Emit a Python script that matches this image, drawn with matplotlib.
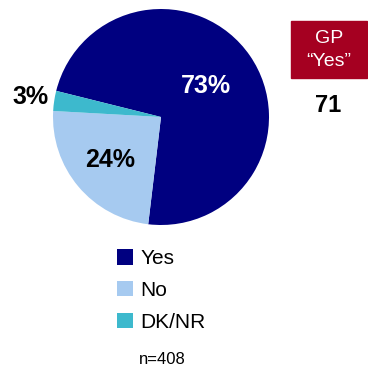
import numpy as np
import matplotlib
matplotlib.use("Agg")
import matplotlib.pyplot as plt
from matplotlib.patches import Rectangle

plt.rcParams['font.family'] = ['Liberation Sans', 'DejaVu Sans']

# data
categories = ['Yes', 'No', 'DK/NR']
values = [73, 24, 3]
pct_labels = ['73%', '24%', '3%']
colors = ['#000080', '#A6CAF0', '#3DB9CD']
label_colors = ['white', 'black', 'black']
label_dist = [0.50, 0.62, 1.22]
gp_label = 'GP\n\u201cYes\u201d'
gp_value = '71'
n_text = 'n=408'

W, H = 368, 373
fig = plt.figure(figsize=(W / 100, H / 100), dpi=100)

# pie axes: centre (161,117) px, radius 108 px
cx, cy, r = 161, 117, 108
ax = fig.add_axes([(cx - r) / W, 1 - (cy + r) / H, 2 * r / W, 2 * r / H])
wedges, _ = ax.pie(values, colors=colors, startangle=166, counterclock=False,
                   radius=1, wedgeprops=dict(linewidth=0))
ax.set_xlim(-1, 1)
ax.set_ylim(-1, 1)
ax.set_aspect('equal')
ax.axis('off')

for w, lab, col, d in zip(wedges, pct_labels, label_colors, label_dist):
    mid = np.deg2rad((w.theta1 + w.theta2) / 2)
    ax.text(d * np.cos(mid), d * np.sin(mid), lab, color=col, fontsize=18,
            fontweight='bold', ha='center', va='center', clip_on=False)

# legend
leg = fig.legend(wedges, categories, loc='upper left',
                 bbox_to_anchor=(117 / W, 1 - 249 / H), frameon=False,
                 borderpad=0, borderaxespad=0, handlelength=0.77,
                 handleheight=0.77, handletextpad=0.35, labelspacing=0.62,
                 prop=dict(size=15))

fig.text(162 / W, 1 - 359 / H, n_text, ha='center', va='center', fontsize=12)

# GP box
fig.patches.append(Rectangle((291 / W, 1 - 78 / H), 76 / W, 57 / H,
                             transform=fig.transFigure, color='#A50021'))
fig.text(329 / W, 1 - 50 / H, gp_label, ha='center', va='center',
         color='white', fontsize=14, linespacing=1.4)
fig.text(328 / W, 1 - 106 / H, gp_value, ha='center', va='center',
         fontsize=17, fontweight='bold')

fig.savefig('out.png', dpi=100)
